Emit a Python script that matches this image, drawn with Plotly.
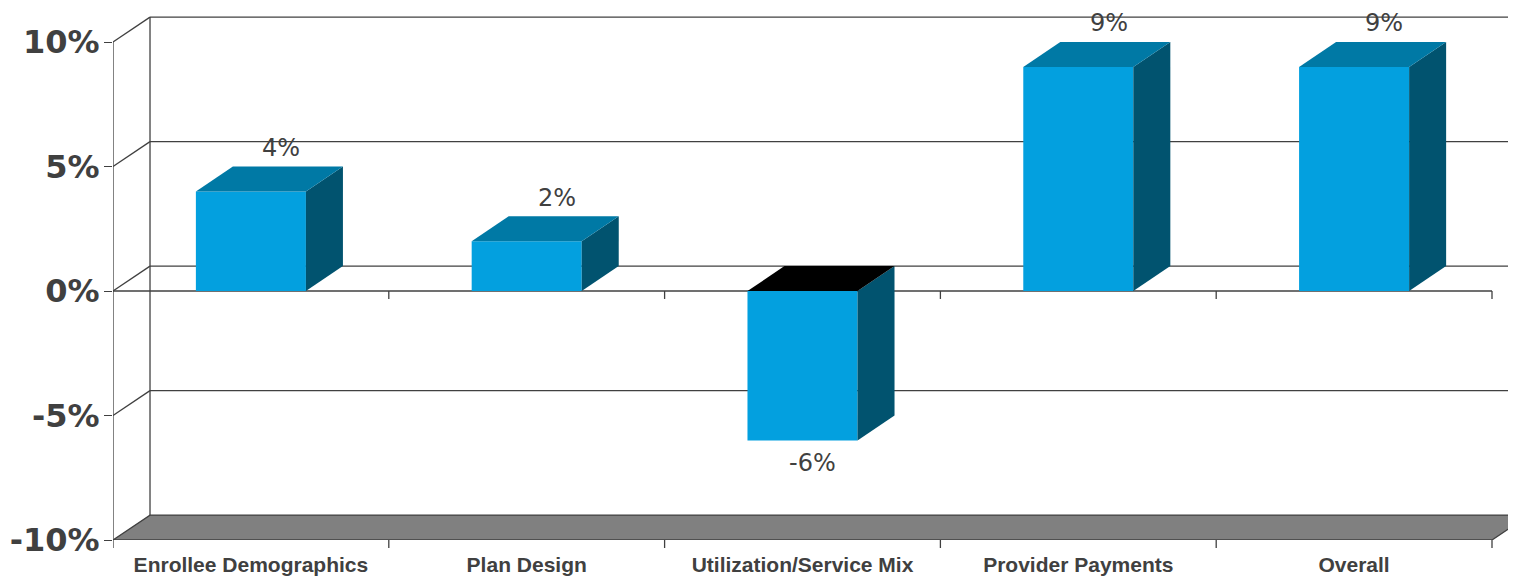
import plotly.graph_objects as go

categories = ["Enrollee Demographics", "Plan Design", "Utilization/Service Mix",
              "Provider Payments", "Overall"]
values = [4, 2, -6, 9, 9]
y_ticks = [-10, -5, 0, 5, 10]
y_ticktext = ["-10%", "-5%", "0%", "5%", "10%"]

FRONT = "#03A0DF"
TOP = "#0079A5"
SIDE = "#01536F"
NEG_TOP = "#000000"
LINE = "#404040"
FLOOR = "#808080"

DX = 0.1342   # depth offset in category units
DY = 1.0      # depth offset in percent units
HW = 0.1995   # half bar width
YMIN, YMAX = -10, 10
X0, X1 = -0.5, len(categories) - 0.5

shapes = []


def poly(pts, fill, lw=0, lc=None):
    p = "M " + " L ".join(f"{x},{y}" for x, y in pts) + " Z"
    shapes.append(dict(type="path", path=p, xref="x", yref="y",
                       fillcolor=fill, line=dict(width=lw, color=lc or fill),
                       layer="above"))


def line(x0, y0, x1, y1, xref="x", yref="y", w=1.3):
    shapes.append(dict(type="line", x0=x0, y0=y0, x1=x1, y1=y1, xref=xref,
                       yref=yref, line=dict(color=LINE, width=w), layer="above"))


# back wall
line(X0 + DX, YMIN + DY, X0 + DX, YMAX + DY)
for v in y_ticks[1:]:
    line(X0 + DX, v + DY, X1 + DX + 0.5, v + DY)
    line(X0, v, X0 + DX, v + DY)
# floor
poly([(X0, YMIN), (X1, YMIN), (X1 + DX, YMIN + DY), (X0 + DX, YMIN + DY)],
     FLOOR, 1.3, LINE)
# front left axis line
line(X0, YMIN, X0, YMAX)
# front zero line with ticks
line(X0, 0, X1, 0)
for i in range(len(categories)):
    line(i + 0.5, 0, i + 0.5, -0.32)
# bottom ticks below floor
for i in range(len(categories) + 1):
    line(i - 0.5, 0, i - 0.5, -0.015, yref="paper")

annotations = []
for i, v in enumerate(values):
    l, r = i - HW, i + HW
    poly([(l, 0), (r, 0), (r, v), (l, v)], FRONT)
    poly([(r, 0), (r, v), (r + DX, v + DY), (r + DX, DY)], SIDE)
    if v >= 0:
        poly([(l, v), (r, v), (r + DX, v + DY), (l + DX, v + DY)], TOP)
        ax, ay = i + 0.11, v + DY + 0.75
    else:
        poly([(l, 0), (r, 0), (r + DX, DY), (l + DX, DY)], NEG_TOP)
        ax, ay = i + 0.035, v - 0.9
    annotations.append(dict(x=ax, y=ay, xref="x", yref="y", text=f"{v:.0f}%",
                            showarrow=False, borderpad=0,
                            font=dict(family="DejaVu Sans", size=24,
                                      color="#404040")))

# page body adds an 8px offset; figure sized to fill the rest of the window
PX_PER_PCT = 24.9
PLOT_H = 532

fig = go.Figure()
fig.add_trace(go.Scatter(x=[0], y=[0], mode="markers",
                         marker=dict(opacity=0), hoverinfo="skip",
                         showlegend=False))
fig.update_layout(
    width=1508, height=569,
    margin=dict(l=105, r=0, t=0, b=37),
    paper_bgcolor="white", plot_bgcolor="white",
    shapes=shapes, annotations=annotations, showlegend=False,
    xaxis=dict(range=[X0, X1 + 24 / 275.8], tickmode="array",
               tickvals=list(range(len(categories))), ticktext=categories,
               showgrid=False, zeroline=False, showline=False, ticks="",
               automargin=False, ticklabelstandoff=10,
               tickfont=dict(family="Liberation Sans, Arial", size=21,
                             weight="bold", color="#404040")),
    yaxis=dict(range=[YMIN, YMIN + PLOT_H / PX_PER_PCT], tickmode="array",
               tickvals=y_ticks, ticktext=y_ticktext,
               showgrid=False, zeroline=False, showline=False,
               automargin=False,
               ticks="outside", ticklen=8, tickwidth=1.3, tickcolor=LINE,
               ticklabelstandoff=-2,
               tickfont=dict(family="DejaVu Sans", size=32,
                             weight="bold", color="#404040")),
)
fig.write_html("out.html")
